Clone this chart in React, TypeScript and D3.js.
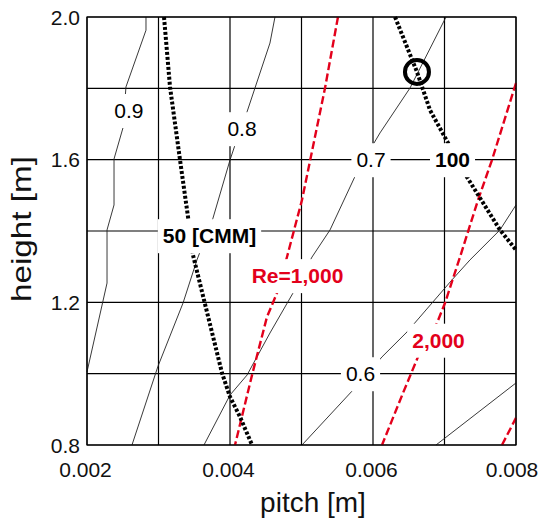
import React, { useEffect, useRef } from 'react';
import * as d3 from 'd3';

const W = 541;
const H = 521;

const xGrid = [0.002, 0.003, 0.004, 0.005, 0.006, 0.007, 0.008];
const yGrid = [0.8, 1.0, 1.2, 1.4, 1.6, 1.8, 2.0];
const xTickLabels = [0.002, 0.004, 0.006, 0.008];
const yTickLabels = [0.8, 1.2, 1.6, 2.0];

// efficiency contours (thin black)
const contour09: [number, number][] = [[0.002825, 2.0], [0.002825, 1.963], [0.002545, 1.804], [0.002503, 1.689], [0.002378, 1.602], [0.002378, 1.473], [0.00228, 1.403], [0.00228, 1.254], [0.002, 1.005]];
const contour08: [number, number][] = [[0.004629, 2.0], [0.004559, 1.927], [0.004238, 1.734], [0.00407, 1.641], [0.004, 1.599], [0.003762, 1.436], [0.003538, 1.319], [0.003343, 1.198], [0.002993, 1.021], [0.002629, 0.8]];
const contour07: [number, number][] = [[0.007021, 2.0], [0.006518, 1.801], [0.006098, 1.675], [0.00579, 1.571], [0.005399, 1.403], [0.005147, 1.327], [0.004881, 1.226], [0.004559, 1.114], [0.004238, 0.996], [0.004, 0.94], [0.003636, 0.8]];
const contour06: [number, number][] = [[0.005007, 0.8], [0.00572, 0.954], [0.006126, 1.047], [0.006476, 1.117], [0.007105, 1.263], [0.007357, 1.319], [0.007776, 1.403], [0.008, 1.473]];
const contour05: [number, number][] = [[0.006881, 0.8], [0.008, 0.974]];

// Reynolds number lines (red dashed)
const re1000: [number, number][] = [[0.00551, 2.0], [0.005329, 1.801], [0.005007, 1.487], [0.004797, 1.327], [0.004657, 1.226], [0.004517, 1.159], [0.004308, 0.996], [0.00407, 0.8]];
const re2000: [number, number][] = [[0.008, 1.815], [0.007664, 1.599], [0.007469, 1.487], [0.007217, 1.327], [0.007007, 1.198], [0.006895, 1.142], [0.006629, 1.047], [0.00642, 0.946], [0.006126, 0.8]];
const re3000: [number, number][] = [[0.007804, 0.8], [0.008, 0.876]];

// flow-rate lines (thick dotted)
const cmm50: [number, number][] = [[0.003077, 2.0], [0.003161, 1.804], [0.003301, 1.599], [0.003413, 1.439], [0.003482, 1.333], [0.003636, 1.207], [0.003888, 1.002], [0.004, 0.935], [0.00414, 0.879], [0.004308, 0.8]];
const cmm100: [number, number][] = [[0.006308, 2.0], [0.006615, 1.846], [0.006797, 1.739], [0.007049, 1.647], [0.007315, 1.551], [0.007776, 1.403], [0.008, 1.347]];

const designPoint: [number, number] = [0.006615, 1.846];

const labelTexts = ['0.9', '0.8', '0.7', '100', '0.6', '50 [CMM]', 'Re=1,000', '2,000'];
const labelX = [0.002587, 0.004168, 0.005972, 0.007112, 0.005825, 0.003713, 0.004944, 0.006916];
const labelY = [1.738, 1.687, 1.6, 1.6, 1.0, 1.387, 1.275, 1.094];
const labelKind = ['eff', 'eff', 'eff', 'cmm', 'eff', 'cmm', 're', 're'];

const FONT = "'Liberation Sans', Arial, Helvetica, sans-serif";
const RED = '#e3001b';

export default function App() {
  const ref = useRef<SVGSVGElement>(null);

  useEffect(() => {
    const svg = d3.select(ref.current);
    svg.selectAll('*').remove();

    const x = d3.scaleLinear().domain([0.002, 0.008]).range([87, 516]);
    const y = d3.scaleLinear().domain([0.8, 2.0]).range([445, 17]);
    const line = d3.line<[number, number]>().x(d => x(d[0])).y(d => y(d[1]));

    const g = svg.append('g');

    // grid
    g.selectAll('line.vx').data(xGrid).enter().append('line')
      .attr('x1', d => x(d)).attr('x2', d => x(d)).attr('y1', y(0.8)).attr('y2', y(2.0))
      .attr('stroke', '#000').attr('stroke-width', 1.2);
    g.selectAll('line.hy').data(yGrid).enter().append('line')
      .attr('y1', d => y(d)).attr('y2', d => y(d)).attr('x1', x(0.002)).attr('x2', x(0.008))
      .attr('stroke', '#000').attr('stroke-width', 1.2);

    // contours
    [contour09, contour08, contour07, contour06, contour05].forEach(c => {
      g.append('path').attr('d', line(c)!).attr('fill', 'none')
        .attr('stroke', '#222').attr('stroke-width', 0.9);
    });
    [re1000, re2000, re3000].forEach(c => {
      g.append('path').attr('d', line(c)!).attr('fill', 'none')
        .attr('stroke', RED).attr('stroke-width', 2.4).attr('stroke-dasharray', '8 3.5');
    });
    [cmm50, cmm100].forEach(c => {
      g.append('path').attr('d', line(c)!).attr('fill', 'none')
        .attr('stroke', '#000').attr('stroke-width', 4).attr('stroke-dasharray', '3 2');
    });

    // labels with white backgrounds
    labelTexts.forEach((t, i) => {
      const lg = g.append('g');
      const fs = 21;
      const txt = lg.append('text')
        .attr('x', x(labelX[i]))
        .attr('y', y(labelY[i]) + 0.36 * fs)
        .attr('text-anchor', 'middle')
        .attr('font-family', FONT)
        .attr('font-size', fs)
        .attr('font-weight', labelKind[i] === 'eff' ? 'normal' : 'bold')
        .attr('fill', labelKind[i] === 're' ? RED : '#000')
        .text(t);
      const bb = (txt.node() as SVGTextElement).getBBox();
      lg.insert('rect', 'text')
        .attr('x', bb.x - 5).attr('y', bb.y - 5)
        .attr('width', bb.width + 10).attr('height', bb.height + 11)
        .attr('fill', '#fff');
    });

    // design point circle
    g.append('circle').attr('cx', x(designPoint[0])).attr('cy', y(designPoint[1]))
      .attr('r', 12).attr('fill', 'none').attr('stroke', '#000').attr('stroke-width', 4);

    // frame
    g.append('rect').attr('x', x(0.002)).attr('y', y(2.0))
      .attr('width', x(0.008) - x(0.002)).attr('height', y(0.8) - y(2.0))
      .attr('fill', 'none').attr('stroke', '#000').attr('stroke-width', 1.2);

    // tick labels
    g.selectAll('text.xt').data(xTickLabels).enter().append('text')
      .attr('x', (d, i) => x(d) - (i === xTickLabels.length - 1 ? 4 : 1.5))
      .attr('y', 477)
      .attr('text-anchor', 'middle')
      .attr('font-family', FONT).attr('font-size', 21).attr('fill', '#111')
      .text(d => d.toFixed(3));
    g.selectAll('text.yt').data(yTickLabels).enter().append('text')
      .attr('x', 80)
      .attr('y', d => y(d) + 7.5)
      .attr('text-anchor', 'end')
      .attr('font-family', FONT).attr('font-size', 21).attr('fill', '#111')
      .text(d => d.toFixed(1));

    // axis titles
    g.append('text').attr('x', 313).attr('y', 512).attr('text-anchor', 'middle')
      .attr('font-family', FONT).attr('font-size', 28).attr('fill', '#111')
      .text('pitch [m]');
    g.append('text').attr('transform', 'translate(31,229) rotate(-90)')
      .attr('text-anchor', 'middle')
      .attr('font-family', FONT).attr('font-size', 28).attr('fill', '#111')
      .attr('textLength', 146).attr('lengthAdjust', 'spacingAndGlyphs')
      .text('height [m]');
  }, []);

  return (
    <svg ref={ref} width={W} height={H}
      style={{ position: 'absolute', left: 0, top: 0, background: '#fff' }} />
  );
}
